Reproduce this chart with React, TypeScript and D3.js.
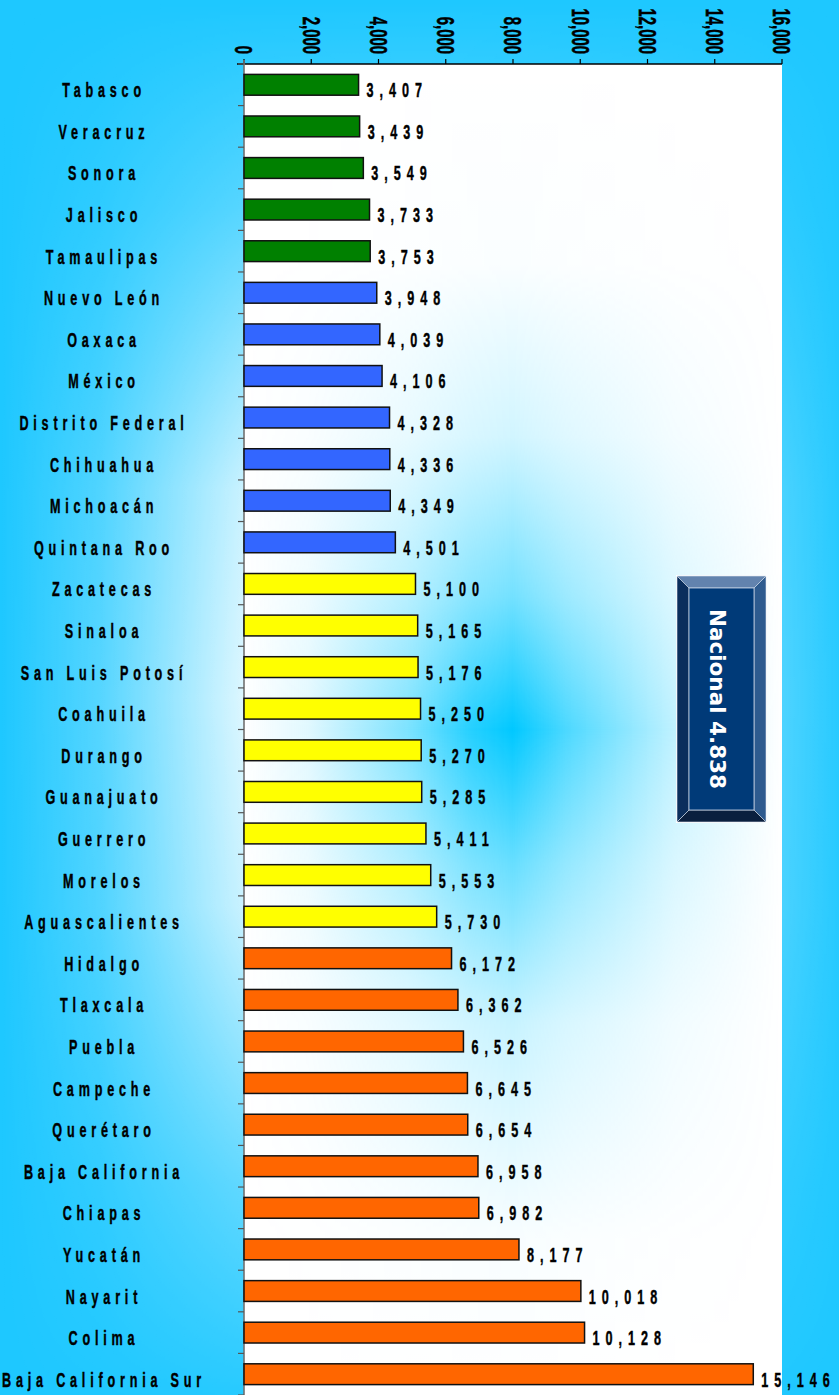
import React, { useEffect } from 'react';
import * as d3 from 'd3';

const categories = ["Tabasco","Veracruz","Sonora","Jalisco","Tamaulipas","Nuevo León","Oaxaca","México","Distrito Federal","Chihuahua","Michoacán","Quintana Roo","Zacatecas","Sinaloa","San Luis Potosí","Coahuila","Durango","Guanajuato","Guerrero","Morelos","Aguascalientes","Hidalgo","Tlaxcala","Puebla","Campeche","Querétaro","Baja California","Chiapas","Yucatán","Nayarit","Colima","Baja California Sur"];
const values = [3407,3439,3549,3733,3753,3948,4039,4106,4328,4336,4349,4501,5100,5165,5176,5250,5270,5285,5411,5553,5730,6172,6362,6526,6645,6654,6958,6982,8177,10018,10128,15146];
const groups = ["g","g","g","g","g","b","b","b","b","b","b","b","y","y","y","y","y","y","y","y","y","o","o","o","o","o","o","o","o","o","o","o"];
const groupColors: Record<string, string> = { g: "#008000", b: "#3366FF", y: "#FFFF00", o: "#FF6600" };
const axisTicks = [0, 2000, 4000, 6000, 8000, 10000, 12000, 14000, 16000];
const nationalLabel = "Nacional 4.838";

const W = 839, H = 1395;
const L = 244, R = 782, T = 64, B = 1395;
const FONT = "'Liberation Sans', Arial, sans-serif";

export default function App() {
  useEffect(() => {
    document.body.style.margin = "0";
    document.body.style.overflow = "hidden";
  }, []);
  const x = d3.scaleLinear().domain([0, 16000]).range([L, R]);
  const y = d3.scaleBand<string>().domain(categories).range([T, B]).paddingInner(0.5).paddingOuter(0.25);
  const fmt = d3.format(",");
  const step = y.step();
  const bw = y.bandwidth();
  const boundaries = d3.range(categories.length + 1).map(i => T + i * step);

  const bx0 = 677, bx1 = 766, by0 = 576, by1 = 822, bv = 12;
  const ix0 = bx0 + bv, ix1 = bx1 - bv, iy0 = by0 + bv, iy1 = by1 - bv;
  const pts = (a: number[][]) => a.map(p => p.join(",")).join(" ");

  return (
    <svg width={W} height={H} style={{ position: "absolute", left: 0, top: 0, display: "block" }}>
      <defs>
        <linearGradient id="ofx" x1="0" y1="0" x2="1" y2="0">
          <stop offset="0" stopColor="#fff" stopOpacity="0" />
          <stop offset="0.12" stopColor="#fff" stopOpacity="0.25" />
          <stop offset="0.29" stopColor="#fff" stopOpacity="0.85" />
          <stop offset="0.5" stopColor="#fff" stopOpacity="1" />
          <stop offset="0.8" stopColor="#fff" stopOpacity="0.6" />
          <stop offset="0.93" stopColor="#fff" stopOpacity="0.22" />
          <stop offset="1" stopColor="#fff" stopOpacity="0.05" />
        </linearGradient>
        <linearGradient id="ofy" x1="0" y1="0" x2="0" y2="1">
          <stop offset="0" stopColor="#fff" stopOpacity="0" />
          <stop offset="0.15" stopColor="#fff" stopOpacity="0.3" />
          <stop offset="0.35" stopColor="#fff" stopOpacity="0.9" />
          <stop offset="0.5" stopColor="#fff" stopOpacity="1" />
          <stop offset="0.65" stopColor="#fff" stopOpacity="0.9" />
          <stop offset="0.85" stopColor="#fff" stopOpacity="0.35" />
          <stop offset="1" stopColor="#fff" stopOpacity="0.05" />
        </linearGradient>
        <mask id="omask" maskUnits="userSpaceOnUse" x="0" y="0" width={W} height={H}>
          <rect x="0" y="0" width={W} height={H} fill="url(#ofy)" />
        </mask>
        <linearGradient id="pfx" x1="0" y1="0" x2="1" y2="0">
          <stop offset="0" stopColor="#00c8ff" stopOpacity="0" />
          <stop offset="0.12" stopColor="#00c8ff" stopOpacity="0.12" />
          <stop offset="0.3" stopColor="#00c8ff" stopOpacity="0.5" />
          <stop offset="0.42" stopColor="#00c8ff" stopOpacity="0.85" />
          <stop offset="0.5" stopColor="#00c8ff" stopOpacity="1" />
          <stop offset="0.6" stopColor="#00c8ff" stopOpacity="0.7" />
          <stop offset="0.8" stopColor="#00c8ff" stopOpacity="0.25" />
          <stop offset="1" stopColor="#00c8ff" stopOpacity="0" />
        </linearGradient>
        <linearGradient id="pfy" x1="0" y1="0" x2="0" y2="1">
          <stop offset="0" stopColor="#fff" stopOpacity="0" />
          <stop offset="0.15" stopColor="#fff" stopOpacity="0.02" />
          <stop offset="0.28" stopColor="#fff" stopOpacity="0.18" />
          <stop offset="0.4" stopColor="#fff" stopOpacity="0.55" />
          <stop offset="0.5" stopColor="#fff" stopOpacity="1" />
          <stop offset="0.6" stopColor="#fff" stopOpacity="0.6" />
          <stop offset="0.72" stopColor="#fff" stopOpacity="0.22" />
          <stop offset="0.88" stopColor="#fff" stopOpacity="0.03" />
          <stop offset="1" stopColor="#fff" stopOpacity="0" />
        </linearGradient>
        <mask id="pmask" maskUnits="userSpaceOnUse" x={L} y={T} width={R - L} height={B - T}>
          <rect x={L} y={T} width={R - L} height={B - T} fill="url(#pfy)" />
        </mask>
      </defs>

      <rect x="0" y="0" width={W} height={H} fill="#1ec8ff" />
      <g mask="url(#omask)">
        <rect x="0" y="0" width={W} height={H} fill="url(#ofx)" />
      </g>

      <rect x={L} y={T} width={R - L} height={B - T} fill="#ffffff" />
      <g mask="url(#pmask)">
        <rect x={L} y={T} width={R - L} height={B - T} fill="url(#pfx)" />
      </g>

      <line x1={L - 7} x2={R} y1={T} y2={T} stroke="#000" strokeWidth={1.5} />
      {axisTicks.map(t => (
        <g key={t}>
          <line x1={x(t)} x2={x(t)} y1={T} y2={T - 5} stroke="#000" strokeWidth={1.2} />
          <g transform={`translate(${x(t)},54) rotate(90) scale(0.62,1)`}>
            <text textAnchor="end" dy="0.36em" fontFamily={FONT} fontWeight="bold" fontSize={24}
              fill="#000" stroke="#000" strokeWidth={0.5}>{fmt(t)}</text>
          </g>
        </g>
      ))}

      <line x1={L} x2={L} y1={T - 4} y2={B} stroke="#707070" strokeWidth={1.6} />
      {boundaries.map((b, i) => (
        <line key={i} x1={L - 6} x2={L} y1={b} y2={b} stroke="#555" strokeWidth={1.2} />
      ))}

      {categories.map((c, i) => (
        <rect key={c} x={x(0)} y={y(c)!} width={x(values[i]) - x(0)} height={bw}
          fill={groupColors[groups[i]]} stroke="#111" strokeWidth={1.5} />
      ))}

      {categories.map((c, i) => (
        <g key={c} transform={`translate(${x(values[i]) + 8},${y(c)! + bw / 2 + 12.5}) scale(0.6,1)`}>
          <text fontFamily={FONT} fontWeight="bold" fontSize={21} letterSpacing={10}
            fill="#000" stroke="#000" strokeWidth={0.45}>{fmt(values[i])}</text>
        </g>
      ))}

      {categories.map(c => (
        <g key={c} transform={`translate(104,${y(c)! + bw / 2 + 12.5}) scale(0.6,1)`}>
          <text textAnchor="middle" fontFamily={FONT} fontWeight="bold" fontSize={21} letterSpacing={8}
            fill="#000" stroke="#000" strokeWidth={0.45}>{c}</text>
        </g>
      ))}

      <g>
        <rect x={bx0 - 1} y={by0 - 1} width={bx1 - bx0 + 2} height={by1 - by0 + 2} fill="#ffffff" />
        <polygon points={pts([[bx0, by0], [bx1, by0], [ix1, iy0], [ix0, iy0]])} fill="#6283ae" stroke="#d8e2ee" strokeWidth={0.6} />
        <polygon points={pts([[bx1, by0], [bx1, by1], [ix1, iy1], [ix1, iy0]])} fill="#2e5b8f" stroke="#d8e2ee" strokeWidth={0.6} />
        <polygon points={pts([[bx1, by1], [bx0, by1], [ix0, iy1], [ix1, iy1]])} fill="#0a1f3e" stroke="#d8e2ee" strokeWidth={0.6} />
        <polygon points={pts([[bx0, by1], [bx0, by0], [ix0, iy0], [ix0, iy1]])} fill="#0b2e5c" stroke="#d8e2ee" strokeWidth={0.6} />
        <rect x={ix0} y={iy0} width={ix1 - ix0} height={iy1 - iy0} fill="#003a78" stroke="#c8d4e6" strokeWidth={0.8} />
        <text transform={`translate(${(ix0 + ix1) / 2 - 4},${(iy0 + iy1) / 2}) rotate(90)`} textAnchor="middle" dy="0.36em"
          fontFamily="'DejaVu Sans', Verdana, sans-serif" fontWeight="bold" fontSize={21.5} fill="#ffffff">{nationalLabel}</text>
      </g>
    </svg>
  );
}
